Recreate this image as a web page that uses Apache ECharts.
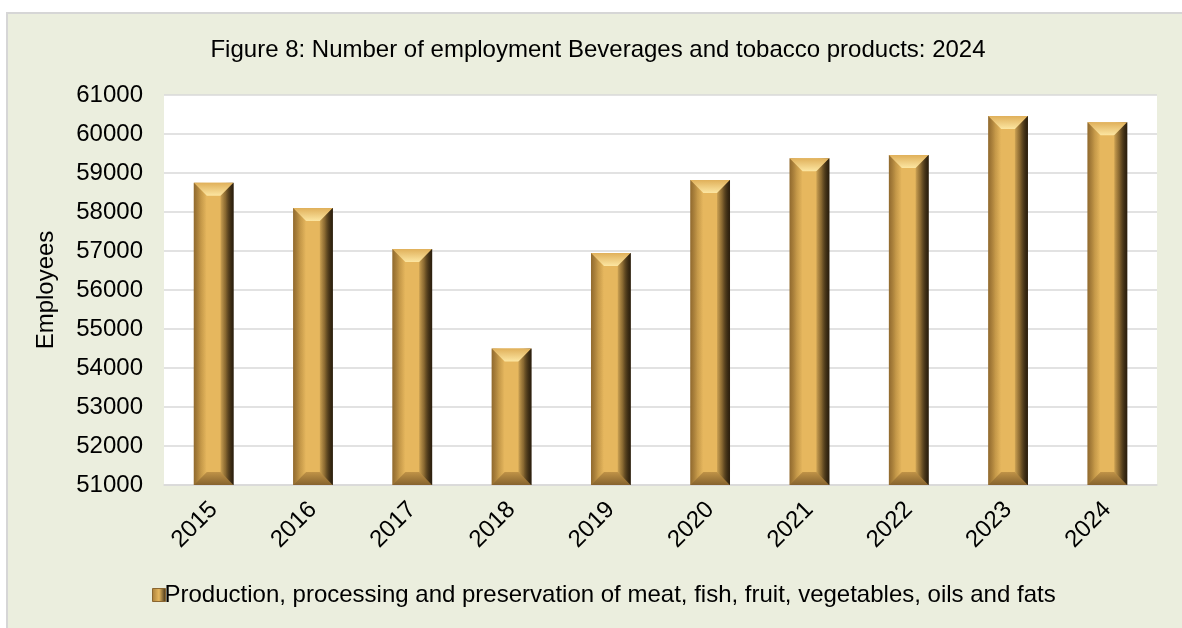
<!DOCTYPE html>
<html>
<head>
<meta charset="utf-8">
<script src="https://cdn.jsdelivr.net/npm/echarts@6/dist/echarts.min.js"></script>
<style>
  html, body { margin: 0; padding: 0; background: #ffffff; }
  #chart { width: 1182px; height: 628px; }
</style>
</head>
<body>
<div id="chart"></div>
<script>
// Employment by year
var years = ['2015', '2016', '2017', '2018', '2019', '2020', '2021', '2022', '2023', '2024'];
var employees = [58750, 58100, 57050, 54500, 56950, 58820, 59380, 59460, 60460, 60300];
var seriesName = 'Production, processing and preservation of meat, fish, fruit, vegetables, oils and fats';
var yMin = 51000;
var yMax = 61000;
var yStep = 1000;

var FONT = '"Liberation Sans", Arial, sans-serif';

function lg(x1, y1, x2, y2, stops) {
  return new echarts.graphic.LinearGradient(x1, y1, x2, y2,
    stops.map(function (s) { return { offset: s[0], color: s[1] }; }));
}

// Beveled gold column: body, top/bottom bevels and shaded sides
function renderBevelBar(params, api) {
  var idx = api.value(0);
  var val = api.value(1);
  var top = api.coord([idx, val]);
  var base = api.coord([idx, yMin]);
  var w = api.size([1, 0])[0] * 0.4;
  var l = top[0] - w / 2, r = top[0] + w / 2, t = top[1], b = base[1];
  var d = Math.min(13, (b - t) / 2, w / 3);
  return {
    type: 'group',
    children: [
      {
        type: 'rect',
        shape: { x: l, y: t, width: w, height: b - t },
        style: {
          fill: lg(0, 0, 1, 0, [
            [0, '#A87D3A'], [0.18, '#D8A952'], [0.32, '#E6B75E'],
            [0.68, '#E6B75E'], [0.8, '#C99B4A'], [1, '#3A2C16']
          ])
        }
      },
      {
        type: 'polygon',
        shape: { points: [[l, t], [r, t], [r - d, t + d], [l + d, t + d]] },
        style: { fill: lg(0, 0, 0, 1, [[0, '#E0B05A'], [1, '#FCE6A2']]) }
      },
      {
        type: 'polygon',
        shape: { points: [[l, b], [r, b], [r - d, b - d], [l + d, b - d]] },
        style: { fill: lg(0, 0, 0, 1, [[0, '#C09347'], [1, '#86632E']]) }
      },
      {
        type: 'polygon',
        shape: { points: [[l, t], [l + d, t + d], [l + d, b - d], [l, b]] },
        style: { fill: lg(0, 0, 1, 0, [[0, 'rgba(110,78,30,0.4)'], [1, 'rgba(110,78,30,0)']]) }
      },
      {
        type: 'polygon',
        shape: { points: [[r, t], [r, b], [r - d, b - d], [r - d, t + d]] },
        style: { fill: lg(0, 0, 1, 0, [[0, 'rgba(50,36,15,0.15)'], [1, 'rgba(40,28,12,0.85)']]) }
      }
    ]
  };
}

var chart = echarts.init(document.getElementById('chart'), null, { renderer: 'canvas' });

chart.setOption({
  animation: false,
  graphic: [{
    type: 'rect',
    z: -10,
    shape: { x: 7, y: 13, width: 1200, height: 650 },
    style: { fill: '#EBEEDE', stroke: '#D6D6D6', lineWidth: 2 }
  }],
  title: {
    text: 'Figure 8: Number of employment Beverages and tobacco products: 2024',
    left: 593,
    textAlign: 'center',
    top: 33,
    textStyle: { fontFamily: FONT, fontSize: 24, fontWeight: 'normal', color: '#000' }
  },
  legend: {
    left: 147,
    top: 578,
    icon: 'rect',
    itemWidth: 13,
    itemHeight: 13,
    itemGap: 10,
    data: [{
      name: seriesName,
      itemStyle: {
        color: lg(0, 0, 1, 0, [[0, '#A57B38'], [0.5, '#E6B75E'], [1, '#3A2C16']]),
        borderColor: '#8A6630',
        borderWidth: 1
      }
    }],
    textStyle: { fontFamily: FONT, fontSize: 24, color: '#000', padding: [0, 0, 0, -6] }
  },
  grid: {
    left: 164,
    right: 25,
    top: 95,
    bottom: 143,
    show: true,
    backgroundColor: '#ffffff',
    borderWidth: 0
  },
  xAxis: {
    type: 'category',
    data: years,
    axisTick: { show: false },
    axisLine: { show: true, lineStyle: { color: '#D9D9D9', width: 1.5 } },
    axisLabel: {
      rotate: 45,
      margin: 21,
      fontFamily: FONT,
      fontSize: 24,
      color: '#000'
    }
  },
  yAxis: {
    type: 'value',
    min: yMin,
    max: yMax,
    interval: yStep,
    name: 'Employees',
    nameLocation: 'middle',
    nameRotate: 90,
    nameGap: 106,
    nameTextStyle: { fontFamily: FONT, fontSize: 24, color: '#000' },
    axisLine: { show: false },
    axisTick: { show: false },
    axisLabel: {
      margin: 21,
      fontFamily: FONT,
      fontSize: 24,
      color: '#000',
      formatter: function (v) { return String(v); }
    },
    splitLine: { lineStyle: { color: '#D9D9D9', width: 1.5 } }
  },
  series: [{
    name: seriesName,
    type: 'custom',
    renderItem: renderBevelBar,
    itemStyle: { color: '#D9A84F' },
    encode: { x: 0, y: 1 },
    data: employees.map(function (v, i) { return [i, v]; })
  }]
});
</script>
</body>
</html>
